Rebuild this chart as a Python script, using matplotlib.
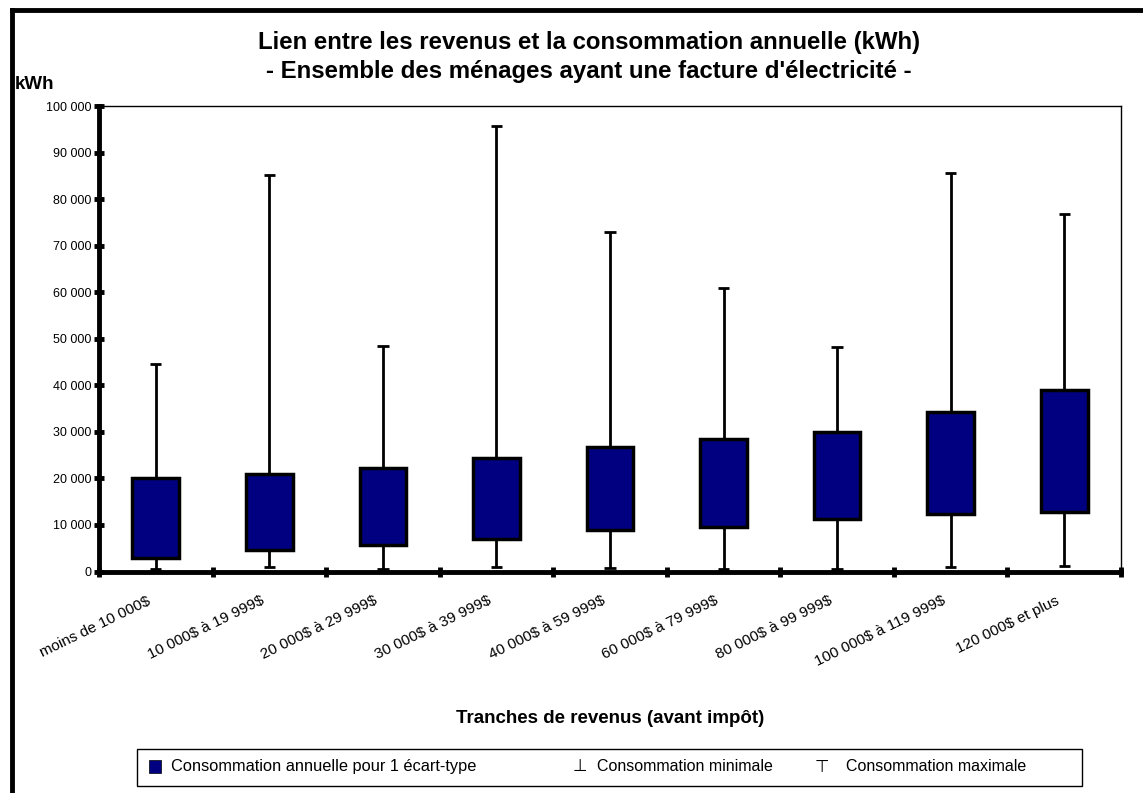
import matplotlib
matplotlib.use("Agg")
import matplotlib.pyplot as plt
from matplotlib.lines import Line2D
from matplotlib.patches import Rectangle
import numpy as np

plt.rcParams['font.family'] = ['Liberation Sans', 'DejaVu Sans']

# Tranches de revenus
categories = ["moins de 10 000$", "10 000$ à 19 999$", "20 000$ à 29 999$",
              "30 000$ à 39 999$", "40 000$ à 59 999$", "60 000$ à 79 999$",
              "80 000$ à 99 999$", "100 000$ à 119 999$", "120 000$ et plus"]

# Consommation (kWh) : bornes de l'écart-type, minimum, maximum
sd_low = [3000, 4600, 5700, 7000, 8900, 9500, 11200, 12300, 12700]
sd_high = [20000, 20900, 22300, 24300, 26700, 28500, 30000, 34300, 39100]
cons_min = [500, 900, 500, 1000, 800, 500, 500, 900, 1200]
cons_max = [44600, 85200, 48500, 95700, 73000, 61000, 48200, 85600, 76800]

yticks = list(range(0, 100001, 10000))
navy = "#000080"

fig = plt.figure(figsize=(11.43, 7.93), dpi=100)
ax = fig.add_axes([0.0866, 0.2793, 0.8942, 0.5870])

x = np.arange(len(categories)) + 0.5
low = np.array(sd_low)
high = np.array(sd_high)

# moustaches
ax.vlines(x, high, cons_max, color="black", lw=2, zorder=2)
ax.vlines(x, cons_min, low, color="black", lw=2, zorder=2)
ax.hlines(cons_max, x - 0.05, x + 0.05, color="black", lw=2, zorder=2)
ax.hlines(cons_min, x - 0.05, x + 0.05, color="black", lw=2, zorder=2)

# boîtes
ax.bar(x, high - low, bottom=low, width=0.41, color=navy,
       edgecolor="black", linewidth=2.5, zorder=3)

ax.set_xlim(0, len(categories))
ax.set_ylim(0, 100000)

ax.set_yticks(yticks)
ax.set_yticklabels([f"{v:,}".replace(",", " ") for v in yticks], fontsize=9)
ax.set_xticks(np.arange(len(categories) + 1))
ax.set_xticklabels([])
# étiquettes un peu décalées vers la gauche, comme dans Excel
ax.set_xticks(x - 0.08, minor=True)
ax.set_xticklabels([c.replace("$", r"\$") for c in categories], minor=True,
                   rotation=26, ha="right", rotation_mode="anchor", fontsize=11)
ax.tick_params(axis="x", which="minor", length=0, pad=16)
ax.tick_params(axis="both", which="major", direction="inout",
               length=7, width=3.5)
ax.tick_params(axis="y", pad=2)

ax.spines["left"].set_linewidth(3.5)
ax.spines["bottom"].set_linewidth(3.5)
ax.spines["top"].set_linewidth(1)
ax.spines["right"].set_linewidth(1)

# titres
fig.text(0.515, 0.946, "Lien entre les revenus et la consommation annuelle (kWh)",
         ha="center", va="center", fontsize=17.3, fontweight="bold")
fig.text(0.515, 0.910, "- Ensemble des ménages ayant une facture d'électricité -",
         ha="center", va="center", fontsize=17.3, fontweight="bold")
fig.text(0.013, 0.894, "kWh", ha="left", va="center", fontsize=13.5,
         fontweight="bold")
fig.text(0.534, 0.094, "Tranches de revenus (avant impôt)", ha="center",
         va="center", fontsize=13.5, fontweight="bold")

# légende
leg_box = Rectangle((0.120, 0.009), 0.827, 0.047, transform=fig.transFigure,
                    facecolor="white", edgecolor="black", lw=1)
fig.patches.append(leg_box)
fig.patches.append(Rectangle((0.130, 0.025), 0.0105, 0.017,
                             transform=fig.transFigure, facecolor=navy,
                             edgecolor="black", lw=0.5))
ly = 0.0335
fig.text(0.150, ly, "Consommation annuelle pour 1 écart-type", va="center",
         fontsize=11.8)
fig.text(0.507, ly, "⊥", va="center", ha="center", fontsize=12,
         family=["DejaVu Sans"])
fig.text(0.522, ly, "Consommation minimale", va="center", fontsize=11.5)
fig.text(0.719, ly, "⊤", va="center", ha="center", fontsize=12,
         family=["DejaVu Sans"])
fig.text(0.740, ly, "Consommation maximale", va="center", fontsize=11.5)

# cadre du graphique (haut et gauche)
fig.lines.append(Line2D([0.0105, 1.0], [0.987, 0.987], transform=fig.transFigure,
                        color="black", lw=3.5))
fig.lines.append(Line2D([0.0105, 0.0105], [0.0, 0.987], transform=fig.transFigure,
                        color="black", lw=3.5))

fig.savefig("out.png", dpi=100)
